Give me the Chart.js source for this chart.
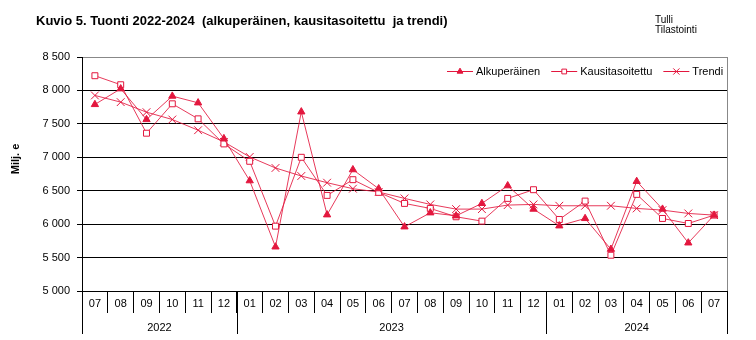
<!DOCTYPE html>
<html>
<head>
<meta charset="utf-8">
<script src="https://cdn.jsdelivr.net/npm/chart.js@4"></script>
<style>
  body { margin: 0; background: #fff; }
  #wrap { position: relative; width: 756px; height: 340px; }
  #title { position: absolute; left: 36px; top: 13px; font: bold 13px "Liberation Sans", Arial, sans-serif; white-space: pre; color: #000; }
  #source { position: absolute; left: 655px; top: 15px; font: 10px/10px "Liberation Sans", Arial, sans-serif; color: #000; }
</style>
</head>
<body>
<div id="wrap">
  <canvas id="TuontiChart" width="756" height="340"></canvas>
  <div id="title">Kuvio 5. Tuonti 2022-2024  (alkuperäinen, kausitasoitettu  ja trendi)</div>
  <div id="source">Tulli<br>Tilastointi</div>
</div>
<script>
const months = ['07','08','09','10','11','12','01','02','03','04','05','06','07','08','09','10','11','12','01','02','03','04','05','06','07'];
const years = ['2022','2022','2022','2022','2022','2022','2023','2023','2023','2023','2023','2023','2023','2023','2023','2023','2023','2023','2024','2024','2024','2024','2024','2024','2024'];

// Milj. e
const alkuperainen = [7790, 8025, 7565, 7915, 7815, 7280, 6650, 5660, 7680, 6140, 6815, 6530, 5960, 6170, 6125, 6310, 6575, 6225, 5975, 6085, 5625, 6640, 6225, 5720, 6135];
const kausitasoitettu = [8220, 8085, 7360, 7800, 7575, 7200, 6940, 5970, 7000, 6430, 6665, 6475, 6310, 6235, 6110, 6045, 6385, 6515, 6070, 6345, 5535, 6445, 6085, 6010, 6135];
const trendi = [7925, 7825, 7675, 7565, 7405, 7230, 7005, 6840, 6720, 6620, 6530, 6480, 6385, 6295, 6225, 6225, 6285, 6295, 6275, 6275, 6275, 6235, 6210, 6160, 6135];

const red = '#e3173e';
const lineRed = 'rgba(227, 23, 62, 0.85)';
const font = '"Liberation Sans", Arial, sans-serif';

function fmt(v) {
  return String(v).replace(/\B(?=(\d{3})+(?!\d))/g, ' ');
}

// year row, right border, y title and legend
const extras = {
  id: 'extras',
  afterDraw(chart) {
    const ctx = chart.ctx;
    const x = chart.scales.x;
    const a = chart.chartArea;
    const step = x.getPixelForValue(1) - x.getPixelForValue(0);
    ctx.save();

    // plot border right side
    ctx.strokeStyle = '#888';
    ctx.lineWidth = 1;
    ctx.beginPath();
    ctx.moveTo(Math.round(a.right) + 0.5, a.top);
    ctx.lineTo(Math.round(a.right) + 0.5, a.bottom);
    ctx.stroke();

    // year groups
    ctx.strokeStyle = '#000';
    ctx.fillStyle = '#000';
    ctx.font = '11px ' + font;
    ctx.textAlign = 'center';
    ctx.textBaseline = 'middle';
    let start = 0;
    for (let i = 1; i <= years.length; i++) {
      if (i === years.length || years[i] !== years[start]) {
        const x0 = x.getPixelForValue(start) - step / 2;
        const x1 = x.getPixelForValue(i - 1) + step / 2;
        [x0, x1].forEach(px => {
          ctx.beginPath();
          ctx.moveTo(Math.round(px) + 0.5, a.bottom);
          ctx.lineTo(Math.round(px) + 0.5, a.bottom + 43);
          ctx.stroke();
        });
        ctx.fillText(years[start], (x0 + x1) / 2, a.bottom + 37);
        start = i;
      }
    }

    // y axis title
    ctx.save();
    ctx.translate(16, 159);
    ctx.rotate(-Math.PI / 2);
    ctx.font = 'bold 11px ' + font;
    ctx.fillText('Milj. e', 0, 0);
    ctx.restore();

    // legend
    let lx = 447;
    const ly = 71.5;
    ctx.textAlign = 'left';
    ctx.font = '11px ' + font;
    chart.data.datasets.forEach(ds => {
      ctx.strokeStyle = red;
      ctx.lineWidth = 1;
      ctx.beginPath();
      ctx.moveTo(lx, ly);
      ctx.lineTo(lx + 26, ly);
      ctx.stroke();
      ctx.fillStyle = ds.pointBackgroundColor;
      ctx.strokeStyle = red;
      Chart.helpers.drawPoint(ctx, {
        pointStyle: ds.pointStyle,
        radius: ds.pointRadius * 0.8,
        borderWidth: 1,
        rotation: 0
      }, lx + 13, ly);
      ctx.fillStyle = '#000';
      ctx.fillText(ds.label, lx + 29, ly);
      lx += 29 + ctx.measureText(ds.label).width + 11;
    });
    ctx.restore();
  }
};

const ctx = document.getElementById('TuontiChart').getContext('2d');
const tuontiChart = new Chart(ctx, {
  type: 'line',
  data: {
    labels: months,
    datasets: [{
      label: 'Alkuperäinen',
      data: alkuperainen,
      borderColor: lineRed,
      borderWidth: 1,
      pointStyle: 'triangle',
      pointRadius: 4.2,
      pointBackgroundColor: red,
      pointBorderColor: red,
      pointBorderWidth: 1
    }, {
      label: 'Kausitasoitettu',
      data: kausitasoitettu,
      borderColor: lineRed,
      borderWidth: 1,
      pointStyle: 'rect',
      pointRadius: 4.2,
      pointBackgroundColor: '#fff',
      pointBorderColor: red,
      pointBorderWidth: 1
    }, {
      label: 'Trendi',
      data: trendi,
      borderColor: lineRed,
      borderWidth: 1,
      pointStyle: 'crossRot',
      pointRadius: 5.5,
      pointBackgroundColor: red,
      pointBorderColor: red,
      pointBorderWidth: 1
    }]
  },
  options: {
    responsive: false,
    animation: false,
    devicePixelRatio: 1,
    layout: { padding: { top: 57, right: 29, left: 0, bottom: 0 } },
    plugins: {
      legend: { display: false },
      tooltip: { enabled: false }
    },
    scales: {
      x: {
        offset: true,
        afterFit: s => { s.height = 49; },
        grid: {
          offset: true,
          drawOnChartArea: false,
          color: '#000',
          tickLength: 22
        },
        border: { color: '#000' },
        ticks: {
          color: '#000',
          font: { family: font, size: 11 },
          padding: -16,
          maxRotation: 0,
          autoSkip: false
        }
      },
      y: {
        min: 5000,
        max: 8500,
        afterFit: s => { s.width = 82; },
        grid: {
          color: c => (c.tick && c.tick.value === 8500) ? '#888' : '#000',
          tickColor: '#000',
          tickLength: 5
        },
        border: { color: '#000' },
        ticks: {
          stepSize: 500,
          color: '#000',
          padding: 7,
          font: { family: font, size: 11 },
          callback: v => fmt(v)
        }
      }
    }
  },
  plugins: [extras]
});
</script>
</body>
</html>
